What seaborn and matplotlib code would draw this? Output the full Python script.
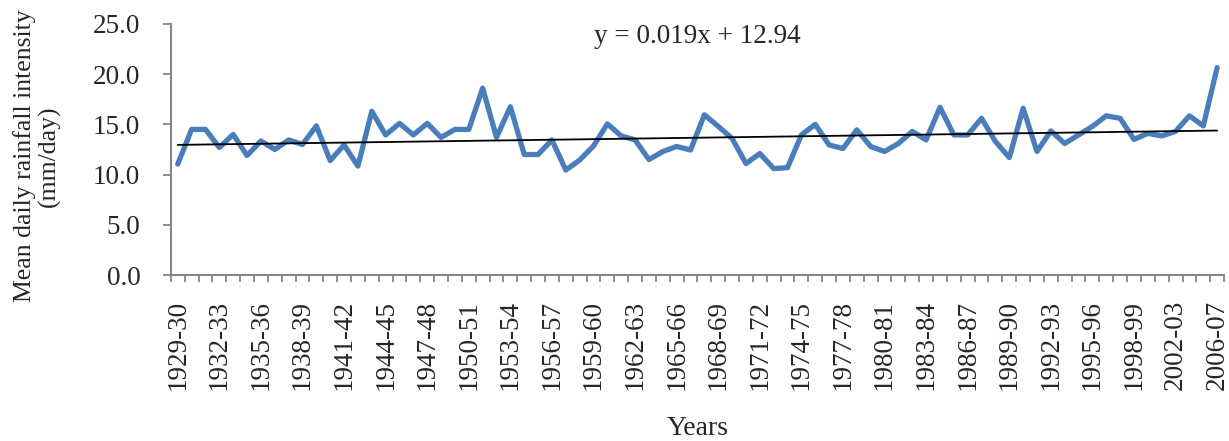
import matplotlib
matplotlib.use("Agg")
import matplotlib.pyplot as plt
import numpy as np
import pandas as pd
import seaborn as sns

# seasons 1929-30 .. 2006-07, two seasons absent from the record
start_years = [y for y in range(1929, 2007) if y not in (2000, 2004)]
seasons = [f"{y}-{str(y + 1)[-2:]}" for y in start_years]

intensity = [
    11.05, 14.5, 14.5, 12.7, 14.0, 11.9, 13.35, 12.5, 13.45, 13.0,
    14.85, 11.4, 12.95, 10.85, 16.3, 13.95, 15.1, 13.95, 15.1, 13.7,
    14.5, 14.5, 18.6, 13.7, 16.75, 12.0, 12.0, 13.45, 10.45, 11.45,
    12.85, 15.05, 13.85, 13.45, 11.5, 12.3, 12.8, 12.45, 15.95, 14.8,
    13.6, 11.1, 12.1, 10.6, 10.7, 13.95, 15.0, 12.95, 12.6, 14.45,
    12.8, 12.3, 13.1, 14.3, 13.45, 16.7, 13.95, 13.95, 15.6, 13.3,
    11.7, 16.6, 12.3, 14.35, 13.1, 13.95, 14.8, 15.85, 15.6, 13.5,
    14.1, 13.85, 14.3, 15.85, 14.85, 20.65,
]

# linear trend as given on the chart
slope = 0.019
intercept = 12.94

df = pd.DataFrame({"pos": np.arange(len(seasons)), "season": seasons,
                   "intensity": intensity})
df["trend"] = slope * (df["pos"] + 1) + intercept

sns.set_theme(style="white")
plt.rcParams["font.family"] = ["Liberation Serif", "DejaVu Serif"]

fig = plt.figure(figsize=(12.29, 4.41), dpi=100)
ax = fig.add_axes([0.139, 0.376, 0.857, 0.570])

sns.lineplot(data=df, x="pos", y="intensity", color="#4a7ebb", lw=3.8,
             ax=ax, solid_joinstyle="round", solid_capstyle="round")
sns.lineplot(data=df, x="pos", y="trend", color="black", lw=1.3, ax=ax)

ax.set_xlim(-0.5, len(seasons) - 0.5)
ax.set_ylim(0, 25)
ax.set_yticks(np.arange(0, 25.1, 5))
ax.set_yticklabels([f"{v:.1f}" for v in np.arange(0, 25.1, 5)], fontsize=19.5)

label_pos = list(range(0, len(seasons), 3))
ax.set_xticks(label_pos)
ax.set_xticklabels([seasons[i] for i in label_pos], rotation=90, fontsize=19.5)
ax.set_xticks(np.arange(-0.5, len(seasons), 1), minor=True)
ax.tick_params(axis="x", which="major", length=0, pad=18)
ax.tick_params(axis="x", which="minor", length=5, width=1.3, color="#868686",
               direction="out", bottom=True)
ax.tick_params(axis="y", length=6, width=1.3, color="#868686", direction="out",
               left=True, pad=16)

for side in ("top", "right"):
    ax.spines[side].set_visible(False)
for side in ("left", "bottom"):
    ax.spines[side].set_color("#868686")
    ax.spines[side].set_linewidth(1.5)

ax.set_xlabel("Years", fontsize=20)
ax.xaxis.set_label_coords(0.5, -0.56)
ax.set_ylabel("Mean daily rainfall intensity\n(mm/day)", fontsize=18.5,
              linespacing=1.15)
ax.yaxis.set_label_coords(-0.104, 0.474)
ax.text(0.5, 0.95, f"y = {slope}x + {intercept}", transform=ax.transAxes,
        ha="center", va="center", fontsize=19.5)

fig.savefig("out.png", dpi=100)
